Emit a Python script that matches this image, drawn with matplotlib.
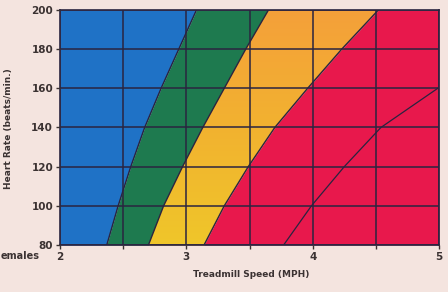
import numpy as np
import matplotlib
matplotlib.use("Agg")
import matplotlib.pyplot as plt
from matplotlib.colors import LinearSegmentedColormap

# Heart rate levels (beats/min)
heart_rate = [80, 100, 120, 140, 160, 180, 200]
# Boundary speeds (MPH) at each heart-rate level
blue_green = [2.37, 2.46, 2.56, 2.67, 2.80, 2.94, 3.08]
green_yellow = [2.70, 2.82, 2.97, 3.13, 3.30, 3.47, 3.65]
yellow_red = [3.14, 3.30, 3.49, 3.70, 3.96, 4.23, 4.52]
# Thin line inside red zone
line_hr = [80, 100, 120, 140, 160]
line_speed = [3.77, 3.99, 4.25, 4.54, 4.99]

x_ticks = [2, 3, 4, 5]
y_ticks = [80, 100, 120, 140, 160, 180, 200]

bg = "#f4e4df"
txt = "#3b3232"
grid_c = "#2a2440"

fig = plt.figure(figsize=(4.48, 2.92), dpi=100, facecolor=bg)
ax = fig.add_axes([0.134, 0.161, 0.846, 0.805])

hr = np.array(heart_rate)
ax.fill_betweenx(hr, 2, blue_green, color="#1f72c6", lw=0)
ax.fill_betweenx(hr, blue_green, green_yellow, color="#1e7a4f", lw=0)
yel = ax.fill_betweenx(hr, green_yellow, yellow_red, color="#f2b02c", lw=0)
ax.fill_betweenx(hr, yellow_red, 5, color="#e8184c", lw=0)

# yellow-to-orange gradient clipped to the yellow band
cmap = LinearSegmentedColormap.from_list("yo", ["#efc62a", "#f2b230", "#f4a03a"])
grad = np.linspace(0, 1, 256).reshape(-1, 1)
im = ax.imshow(grad, extent=[2, 5, 80, 200], origin="lower", aspect="auto",
               cmap=cmap, zorder=1.5)
im.set_clip_path(yel.get_paths()[0], transform=ax.transData)

for b in (blue_green, green_yellow, yellow_red):
    ax.plot(b, hr, color=grid_c, lw=1.0, zorder=2)
ax.plot(line_speed, line_hr, color=grid_c, lw=0.9, zorder=2)

ax.set_xlim(2, 5)
ax.set_ylim(80, 200)
ax.set_xticks(np.arange(2, 5.01, 0.5))
ax.set_xticklabels(["2", "", "3", "", "4", "", "5"])
ax.set_yticks(y_ticks)
ax.set_yticklabels([str(v) for v in y_ticks])
ax.grid(True, color=grid_c, lw=1.1, zorder=3)
ax.set_axisbelow(False)
for s in ax.spines.values():
    s.set_color(grid_c)
    s.set_linewidth(1.2)
ax.tick_params(colors=txt, labelsize=7.5, length=3, width=1, pad=2)
for lab in ax.get_xticklabels() + ax.get_yticklabels():
    lab.set_fontweight("bold")
    lab.set_color(txt)

fig.text(0.56, 0.06, "Treadmill Speed (MPH)", ha="center", va="center",
         fontsize=6.5, fontweight="bold", color=txt)
fig.text(0.02, 0.56, "Heart Rate (beats/min.)", ha="center", va="center",
         rotation=90, fontsize=6.5, fontweight="bold", color=txt)
fig.text(0.002, 0.122, "emales", ha="left", va="center",
         fontsize=7, fontweight="bold", color=txt)

fig.savefig("out.png", dpi=100, facecolor=bg)
